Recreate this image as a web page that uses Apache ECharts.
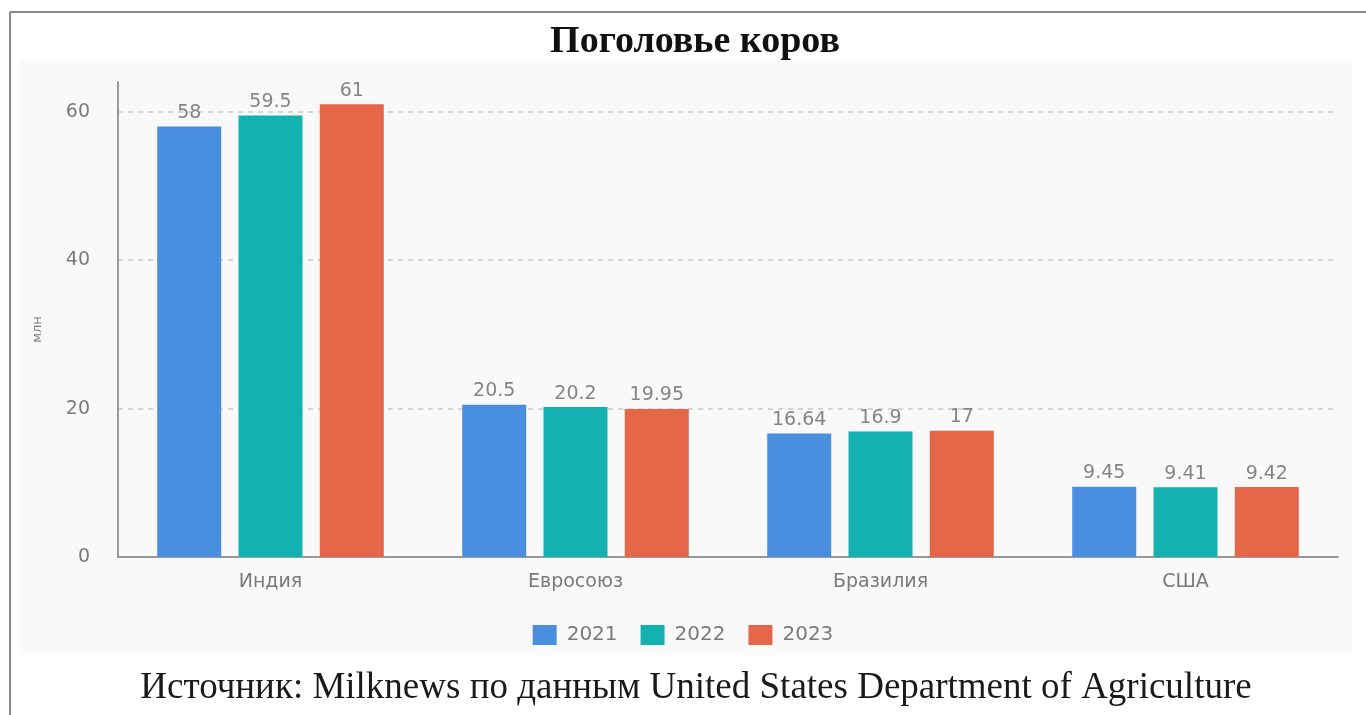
<!DOCTYPE html>
<html><head><meta charset="utf-8">
<script src="https://cdn.jsdelivr.net/npm/echarts@6/dist/echarts.min.js"></script>
<style>html,body{margin:0;padding:0;background:#fff}#c{width:1366px;height:715px}</style>
</head><body><div id="c"></div>
<script>
const categories = ['Индия', 'Евросоюз', 'Бразилия', 'США'];
const seriesNames = ['2021', '2022', '2023'];
const values2021 = [58, 20.5, 16.64, 9.45];
const values2022 = [59.5, 20.2, 16.9, 9.41];
const values2023 = [61, 19.95, 17, 9.42];
const yTicks = [0, 20, 40, 60];
const titleText = 'Поголовье коров';
const sourceText = 'Источник: Milknews по данным United States Department of Agriculture';
const yName = 'млн';

const colors = ['#4a8ee0', '#13b1b0', '#e6664a'];
const chart = echarts.init(document.getElementById('c'));
const seriesData = [values2021, values2022, values2023];
chart.setOption({
  animation: false,
  backgroundColor: '#ffffff',
  color: colors,
  graphic: [
    {type: 'rect', shape: {x: 20, y: 60, width: 1332, height: 595}, style: {fill: '#f9f9f9'}, z: -10},
    {type: 'line', shape: {x1: 10, y1: 12, x2: 1366, y2: 12}, style: {stroke: '#8a8a8a', lineWidth: 2}},
    {type: 'line', shape: {x1: 10, y1: 12, x2: 10, y2: 715}, style: {stroke: '#8a8a8a', lineWidth: 2}},
    {type: 'text', x: 695, y: 23, style: {text: titleText, textAlign: 'center', font: 'bold 38px "Liberation Serif"', fill: '#111'}},
    {type: 'text', x: 696, y: 670, style: {text: sourceText, textAlign: 'center', font: '37px "Liberation Serif"', fill: '#1a1a1a'}}
  ],
  legend: {
    data: seriesNames, left: 'center', top: 620, itemWidth: 24, itemHeight: 20, itemGap: 23,
    icon: 'rect', textStyle: {color: '#7a7a7a', fontSize: 20, fontFamily: 'DejaVu Sans', padding: [0, 0, 0, 5]}
  },
  grid: {left: 118, right: 28, top: 82, bottom: 158, containLabel: false},
  xAxis: {
    type: 'category', data: categories,
    axisLine: {lineStyle: {color: '#999', width: 2}},
    axisTick: {show: false},
    axisLabel: {color: '#7a7a7a', fontSize: 19, fontFamily: 'DejaVu Sans', margin: 16}
  },
  yAxis: {
    type: 'value', min: 0, max: 64, interval: 20,
    name: yName, nameLocation: 'middle', nameGap: 74, nameRotate: 90,
    nameTextStyle: {color: '#7a7a7a', fontSize: 13, fontFamily: 'DejaVu Sans', padding: [0, 20, 0, 0]},
    axisLine: {show: true, lineStyle: {color: '#999', width: 2}},
    axisTick: {show: false},
    axisLabel: {color: '#7a7a7a', fontSize: 19, fontFamily: 'DejaVu Sans', margin: 28,
      formatter: v => yTicks.includes(v) ? String(v) : ''},
    splitLine: {show: true, showMinLine: false, showMaxLine: false, lineStyle: {color: '#c8c8c8', type: [5, 5], width: 1.5}}
  },
  series: seriesNames.map((n, i) => ({
    name: n, type: 'bar', data: seriesData[i], barWidth: 64, barGap: '27%',
    label: {show: true, position: 'top', color: '#858585', fontSize: 19, fontFamily: 'DejaVu Sans', distance: 4}
  }))
});
</script></body></html>
